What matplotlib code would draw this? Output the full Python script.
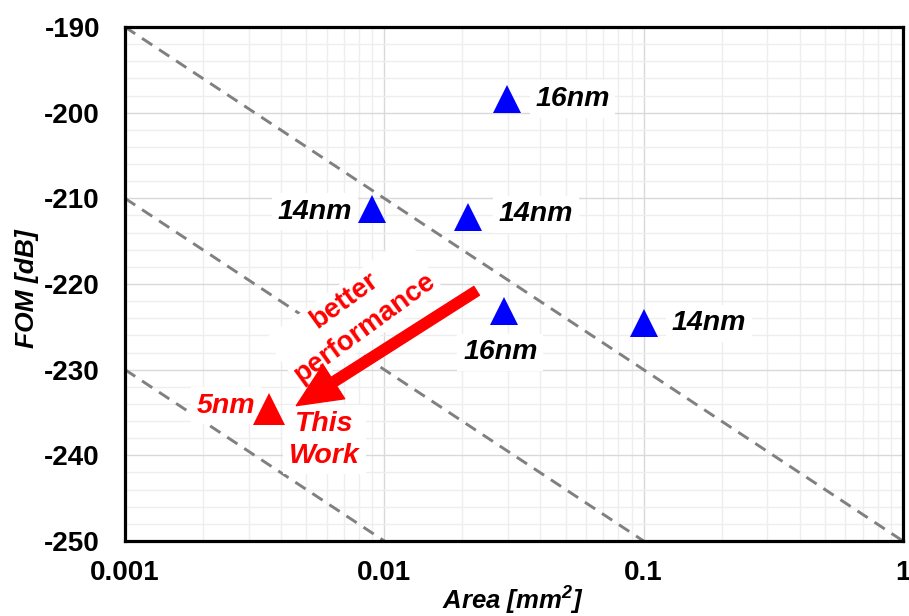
import numpy as np
import matplotlib
matplotlib.use("Agg")
import matplotlib.pyplot as plt
from matplotlib.ticker import FixedLocator, MultipleLocator, LogLocator, NullFormatter

plt.rcParams['font.family'] = ['Liberation Sans', 'DejaVu Sans']
plt.rcParams['axes.unicode_minus'] = False
plt.rcParams['mathtext.fontset'] = 'custom'
plt.rcParams['mathtext.bf'] = 'Liberation Sans:bold:italic'
plt.rcParams['mathtext.rm'] = 'Liberation Sans:bold:italic'

# ---- data ----
ref_x = [0.001, 1.0]
ref_lines_y = [[-190, -250], [-210, -270], [-230, -290]]

other_area = [0.0298, 0.00897, 0.0210, 0.0289, 0.1]
other_fom = [-198.4, -211.3, -212.2, -223.1, -224.6]
other_labels = ["16nm", "14nm", "14nm", "16nm", "14nm"]
other_label_offsets = [(47, 0), (-41, -1.5), (49, 2), (-2.5, -30), (47, 0)]

this_area = [0.00359]
this_fom = [-234.6]
this_label = "5nm"

arrow_start = (0.0227, -220.8)
arrow_end = (0.00458, -234.2)

x_ticks = [0.001, 0.01, 0.1, 1]
x_ticklabels = ["0.001", "0.01", "0.1", "1"]
y_ticks = [-250, -240, -230, -220, -210, -200, -190]
y_ticklabels = ["-250", "-240", "-230", "-220", "-210", "-200", "-190"]

fig = plt.figure(figsize=(9.09, 6.16), dpi=100)
ax = fig.add_axes([0.1375, 0.1218, 0.8558, 0.8343])

ax.set_xscale('log')
ax.set_xlim(0.001, 1)
ax.set_ylim(-250, -190)

# grid
ax.xaxis.set_major_locator(FixedLocator(x_ticks))
ax.set_xticklabels(x_ticklabels)
ax.xaxis.set_minor_locator(LogLocator(base=10, subs=np.arange(2, 10)))
ax.xaxis.set_minor_formatter(NullFormatter())
ax.yaxis.set_major_locator(FixedLocator(y_ticks))
ax.set_yticklabels(y_ticklabels)
ax.yaxis.set_minor_locator(MultipleLocator(2))
ax.grid(which='major', color='#d9d9d9', linewidth=1.0, zorder=0)
ax.grid(which='minor', color='#eeeeee', linewidth=1.0, zorder=0)
ax.set_axisbelow(True)

ax.tick_params(which='both', length=0)
ax.tick_params(axis='y', pad=18, labelsize=20)
ax.tick_params(axis='x', pad=14, labelsize=20)
for lab in ax.get_xticklabels() + ax.get_yticklabels():
    lab.set_fontweight('bold')

for sp in ax.spines.values():
    sp.set_linewidth(2.3)
    sp.set_color('black')

# reference dashed lines
for ys in ref_lines_y:
    ax.plot(ref_x, ys, color='#808080', linewidth=2.1, dashes=[4.2, 2.8], zorder=2)

box = dict(facecolor='white', edgecolor='none', pad=4)

# other works
ax.plot(other_area, other_fom, linestyle='none', marker='^', markersize=19.5,
        color='#0000ff', markeredgewidth=0, zorder=5)
for xa, ya, lab, off in zip(other_area, other_fom, other_labels, other_label_offsets):
    ax.annotate(lab, (xa, ya), xytext=off, textcoords='offset points',
                ha='center', va='center', fontsize=20.5, fontweight='bold',
                fontstyle='italic', color='black', bbox=box, zorder=4)

# this work
ax.plot(this_area, this_fom, linestyle='none', marker='^', markersize=23,
        color='#ff0000', markeredgewidth=0, zorder=5)
ax.annotate(this_label, (this_area[0], this_fom[0]), xytext=(-31, 2.5),
            textcoords='offset points', ha='center', va='center', fontsize=20.5,
            fontweight='bold', fontstyle='italic', color='#ff0000', bbox=box, zorder=4)
ax.annotate("This\nWork", (this_area[0], this_fom[0]), xytext=(40, -22),
            textcoords='offset points', ha='center', va='center', fontsize=20.5,
            fontweight='bold', fontstyle='italic', color='#ff0000',
            linespacing=1.3, bbox=box, zorder=4)

# better performance text
ax.text(0.00766, -223.5, "better\nperformance", rotation=36, rotation_mode='anchor',
        ha='center', va='center', fontsize=20, fontweight='bold', color='#ff0000',
        linespacing=1.4, bbox=dict(facecolor='white', edgecolor='none', pad=2), zorder=4)

# arrow
ax.annotate("", xy=arrow_end, xytext=arrow_start,
            arrowprops=dict(arrowstyle='simple,head_width=2.9,head_length=3.2,tail_width=0.75',
                            color='#ff0000', shrinkA=0, shrinkB=0,
                            mutation_scale=10),
            zorder=6)

ax.set_xlabel("Area [mm$^{2}$]", fontsize=18.5, fontweight='bold', fontstyle='italic',
              va='baseline')
ax.set_ylabel("FOM [dB]", fontsize=19, fontweight='bold', fontstyle='italic')
ax.xaxis.set_label_coords(0.499, -0.132)
ax.yaxis.set_label_coords(-0.11, 0.49)

fig.savefig("out.png", dpi=100)
